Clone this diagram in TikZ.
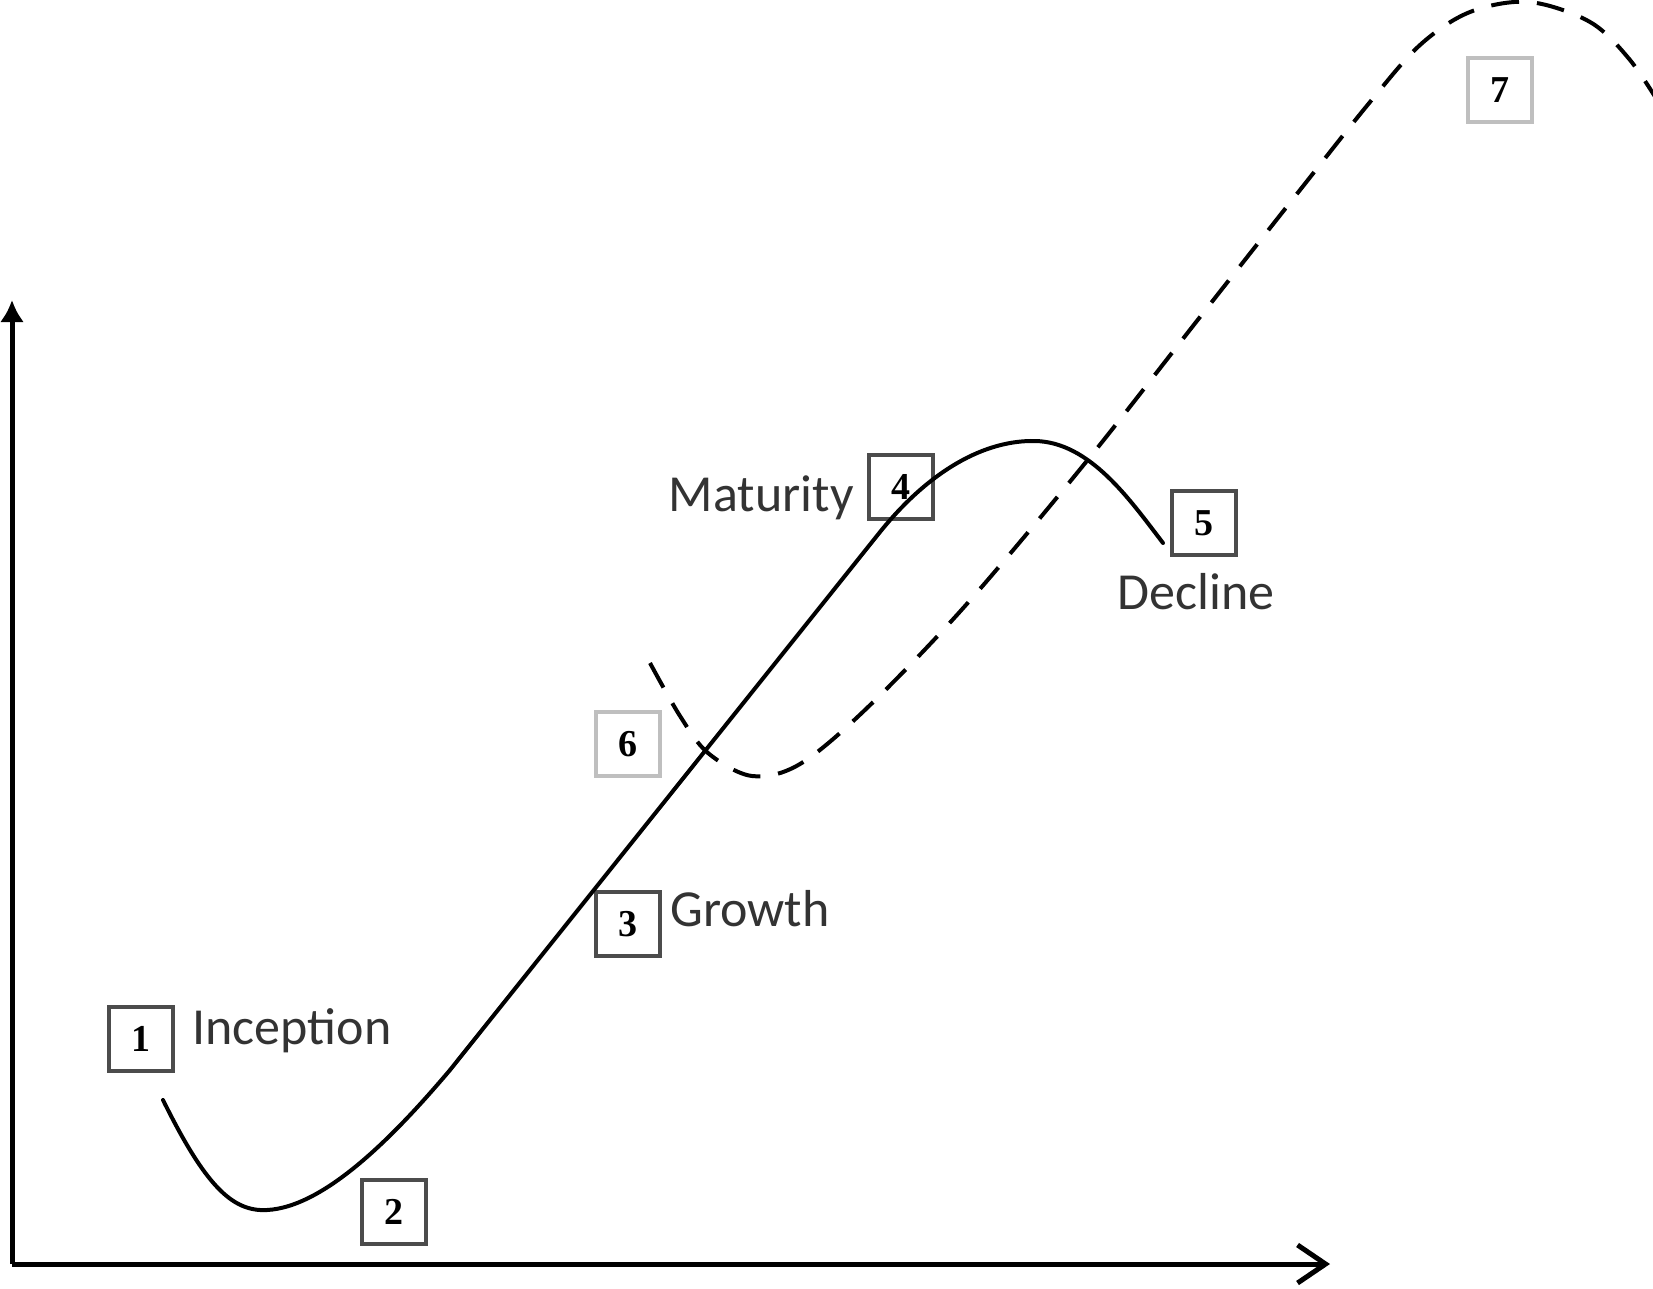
\documentclass[tikz,border=0pt]{standalone}
\usepackage{fontspec}
\setmainfont{Liberation Serif}
\newfontfamily\labelfont{Carlito}
\usetikzlibrary{arrows.meta}
\begin{document}
\begin{tikzpicture}[x=0.5pt,y=-0.5pt,
  numbox/.style={draw=black!70, line width=2pt, minimum size=32pt, inner sep=0pt, font=\fontsize{19}{22}\selectfont\bfseries},
  faintbox/.style={numbox, draw=black!25, line width=1.8pt},
  stagelabel/.style={font=\labelfont\fontsize{26}{30}\selectfont, text=black!80, inner sep=0pt, anchor=base west},
  solidcurve/.style={line width=2pt, line cap=round},
  dashcurve/.style={line width=2pt, dash pattern=on 14pt off 9pt},
  axisline/.style={line width=2.5pt}]
\useasboundingbox (0,0) rectangle (1653,1289);

% axes
\coordinate (origin) at (12,1264);
\coordinate (ytip) at (12,300);
\coordinate (xtip) at (1330,1264);
\draw[axisline, -{Latex[length=11pt,width=12pt]}] (origin) -- (ytip);
\draw[axisline, -{Straight Barb[length=14pt,width=19pt,line width=2.5pt]}] (origin) -- (xtip);

% number boxes
\node[numbox] (b1) at (141,1039) {1};
\node[numbox] (b2) at (394,1212) {2};
\node[numbox] (b3) at (628,924) {3};
\node[numbox] (b4) at (901,487) {4};
\node[numbox] (b5) at (1204,523) {5};
\node[faintbox] (b6) at (628,744) {6};
\node[faintbox] (b7) at (1500,90) {7};

% stage labels
\node[stagelabel] (linc) at (192,1044) {Inception};
\node[stagelabel] (lgro) at (670,926) {Growth};
\node[stagelabel, anchor=base east] (lmat) at (854,511) {Maturity};
\node[stagelabel] (ldec) at (1117,609) {Decline};

% solid life-cycle curve
\draw[solidcurve] (163,1100) .. controls (205,1185) and (232,1212) .. (267,1210)
  .. controls (325,1207) and (395,1135) .. (450,1070)
  -- (880,532)
  .. controls (930,470) and (985,440) .. (1035,441)
  .. controls (1090,442) and (1130,500) .. (1163,543);

% dashed renewal curve
\draw[dashcurve] plot[smooth, tension=0.55] coordinates {
  (650,663) (680,716) (708,753) (752,776) (800,764) (867,708) (965,606)
  (1086,462) (1200,317) (1300,190) (1370,102) (1420,45) (1470,12)
  (1529,2) (1590,22) (1630,60) (1662,108)};
\end{tikzpicture}
\end{document}
